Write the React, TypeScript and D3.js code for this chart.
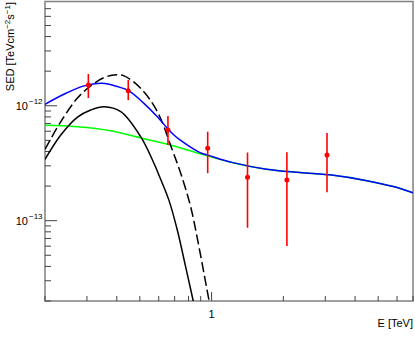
import { useEffect, useRef } from "react";
import * as d3 from "d3";

// measured points (E in TeV, SED in TeV cm^-2 s^-1)
const pointE = [0.304, 0.447, 0.656, 0.963, 1.415, 2.07, 3.05];
const pointF = [1.52e-12, 1.35e-12, 6.16e-13, 4.27e-13, 2.39e-13, 2.26e-13, 3.73e-13];
const pointHi = [1.89e-12, 1.68e-12, 8.15e-13, 5.95e-13, 3.92e-13, 3.95e-13, 5.8e-13];
const pointLo = [1.17e-12, 1.12e-12, 4.56e-13, 2.59e-13, 8.69e-14, 6.02e-14, 1.77e-13];

// total model (blue)
const totalE = [0.2, 0.24, 0.292, 0.348, 0.402, 0.45, 0.52, 0.592, 0.652, 0.695, 0.737, 0.894, 0.966, 1.23, 1.7, 2.35, 3.24, 4.48, 5.79, 7.0];
const totalF = [1.03e-12, 1.26e-12, 1.49e-12, 1.57e-12, 1.47e-12, 1.35e-12, 1.05e-12, 8.04e-13, 6.37e-13, 5.57e-13, 5.04e-13, 3.91e-13, 3.72e-13, 3.2e-13, 2.8e-13, 2.62e-13, 2.48e-13, 2.23e-13, 1.98e-13, 1.75e-13];

// broad component (green)
const broadE = [0.2, 0.273, 0.377, 0.52, 0.695, 0.894, 1.23, 1.7, 2.35, 3.24, 4.48, 5.79, 7.0];
const broadF = [6.76e-13, 6.58e-13, 6.07e-13, 5.17e-13, 4.47e-13, 3.82e-13, 3.19e-13, 2.8e-13, 2.62e-13, 2.48e-13, 2.23e-13, 1.98e-13, 1.75e-13];

// low energy bump (black solid)
const bumpE = [0.2, 0.233, 0.273, 0.311, 0.354, 0.416, 0.504, 0.573, 0.601, 0.662, 0.718, 0.778, 0.836, 0.87];
const bumpF = [3.42e-13, 5.57e-13, 7.94e-13, 9.19e-13, 9.82e-13, 8.89e-13, 5.38e-13, 3.16e-13, 2.5e-13, 1.51e-13, 8.3e-14, 3.98e-14, 2.04e-14, 1.4e-14];

// alternative bump (black dashed)
const altE = [0.2, 0.233, 0.273, 0.311, 0.354, 0.389, 0.429, 0.504, 0.592, 0.684, 0.742, 0.817, 0.885, 0.975, 1.0];
const altF = [4.18e-13, 7.27e-13, 1.16e-12, 1.49e-12, 1.76e-12, 1.85e-12, 1.82e-12, 1.42e-12, 8.89e-13, 4.12e-13, 2.59e-13, 1.32e-13, 5.94e-14, 2.04e-14, 1.6e-14];

const xMinor = [0.2, 0.3, 0.4, 0.5, 0.6, 0.7, 0.8, 0.9, 2, 3, 4, 5, 6, 7];
const xMajor = [1];
const yMinor = [2e-14, 3e-14, 4e-14, 5e-14, 6e-14, 7e-14, 8e-14, 9e-14, 2e-13, 3e-13, 4e-13, 5e-13, 6e-13, 7e-13, 8e-13, 9e-13, 2e-12, 3e-12, 4e-12, 5e-12, 6e-12, 7e-12];
const yMajor = [1e-13, 1e-12];

const W = 415;
const H = 337;

const App = () => {
    const svgRef = useRef<SVGSVGElement>(null);

    useEffect(() => {
        const svg = d3.select(svgRef.current);
        svg.selectAll("*").remove();

        const margin = { top: 2, right: 2, bottom: 36, left: 45 };
        const x = d3.scaleLog().domain([0.2, 7]).range([margin.left, W - margin.right]);
        const y = d3.scaleLog().domain([2e-14, 8e-12]).range([H - margin.bottom, margin.top]);
        const font = "'Liberation Sans', Arial, sans-serif";

        svg.append("rect").attr("width", W).attr("height", H).attr("fill", "#fff");

        svg.append("clipPath").attr("id", "plot")
            .append("rect")
            .attr("x", margin.left).attr("y", margin.top)
            .attr("width", W - margin.left - margin.right)
            .attr("height", H - margin.top - margin.bottom);

        // frame
        svg.append("rect")
            .attr("x", margin.left).attr("y", margin.top - 0.5)
            .attr("width", W - margin.left - margin.right)
            .attr("height", H - margin.top - margin.bottom + 0.5)
            .attr("fill", "none").attr("stroke", "#808080").attr("stroke-width", 1.5);

        // x ticks (inward)
        const xb = H - margin.bottom;
        const tickG = svg.append("g").attr("stroke", "#444").attr("stroke-width", 1);
        xMinor.forEach((v) => {
            tickG.append("line").attr("x1", x(v)).attr("x2", x(v)).attr("y1", xb).attr("y2", xb - 5);
        });
        xMajor.forEach((v) => {
            tickG.append("line").attr("x1", x(v)).attr("x2", x(v)).attr("y1", xb).attr("y2", xb - 9);
        });
        yMinor.forEach((v) => {
            tickG.append("line").attr("x1", margin.left).attr("x2", margin.left + 6).attr("y1", y(v)).attr("y2", y(v));
        });
        yMajor.forEach((v) => {
            tickG.append("line").attr("x1", margin.left).attr("x2", margin.left + 12).attr("y1", y(v)).attr("y2", y(v));
        });

        // axis labels
        svg.append("text").attr("x", x(1)).attr("y", 318)
            .attr("text-anchor", "middle").attr("font-family", font).attr("font-size", 11)
            .text("1");

        svg.append("text").attr("x", W - margin.right).attr("y", 327)
            .attr("text-anchor", "end").attr("font-family", font).attr("font-size", 11)
            .text("E [TeV]");

        yMajor.forEach((v) => {
            const exp = Math.round(Math.log10(v));
            const yy = y(v);
            svg.append("text").attr("x", 28).attr("y", yy + 4)
                .attr("text-anchor", "end").attr("font-family", font).attr("font-size", 11)
                .text("10");
            svg.append("text").attr("x", 29).attr("y", yy - 2)
                .attr("font-family", font).attr("font-size", 8)
                .text(`\u2212${Math.abs(exp)}`);
        });

        const title = svg.append("text")
            .attr("transform", "translate(14,2) rotate(-90)")
            .attr("text-anchor", "end").attr("font-family", font).attr("font-size", 11);
        title.append("tspan").text("SED [TeVcm");
        title.append("tspan").attr("dy", -4).attr("font-size", 8).text("\u22122");
        title.append("tspan").attr("dy", 4).text("s");
        title.append("tspan").attr("dy", -4).attr("font-size", 8).text("\u22121");
        title.append("tspan").attr("dy", 4).text("]");

        // curves
        const line = d3.line<[number, number]>()
            .x((d) => x(d[0]))
            .y((d) => y(d[1]))
            .curve(d3.curveCatmullRom);

        const plot = svg.append("g").attr("clip-path", "url(#plot)");
        const drawCurve = (es: number[], fs: number[], color: string, dash?: string) => {
            plot.append("path")
                .attr("d", line(es.map((e, i) => [e, fs[i]] as [number, number])))
                .attr("fill", "none")
                .attr("stroke", color)
                .attr("stroke-width", 1.5)
                .attr("stroke-dasharray", dash ?? null);
        };

        drawCurve(broadE, broadF, "#00ff00");
        drawCurve(bumpE, bumpF, "#000000");
        drawCurve(altE, altF, "#000000", "10 4");
        drawCurve(totalE, totalF, "#0000ff");

        // data points with error bars
        const pts = plot.append("g");
        pointE.forEach((e, i) => {
            pts.append("line")
                .attr("x1", x(e)).attr("x2", x(e))
                .attr("y1", y(pointHi[i])).attr("y2", y(pointLo[i]))
                .attr("stroke", "#ff0000").attr("stroke-width", 1.6);
            pts.append("circle")
                .attr("cx", x(e)).attr("cy", y(pointF[i])).attr("r", 2.5)
                .attr("fill", "#ff0000");
        });
    }, []);

    return (
        <svg
            ref={svgRef}
            width={W}
            height={H}
            style={{ position: "absolute", left: 0, top: 0 }}
        ></svg>
    );
};

export default App;
